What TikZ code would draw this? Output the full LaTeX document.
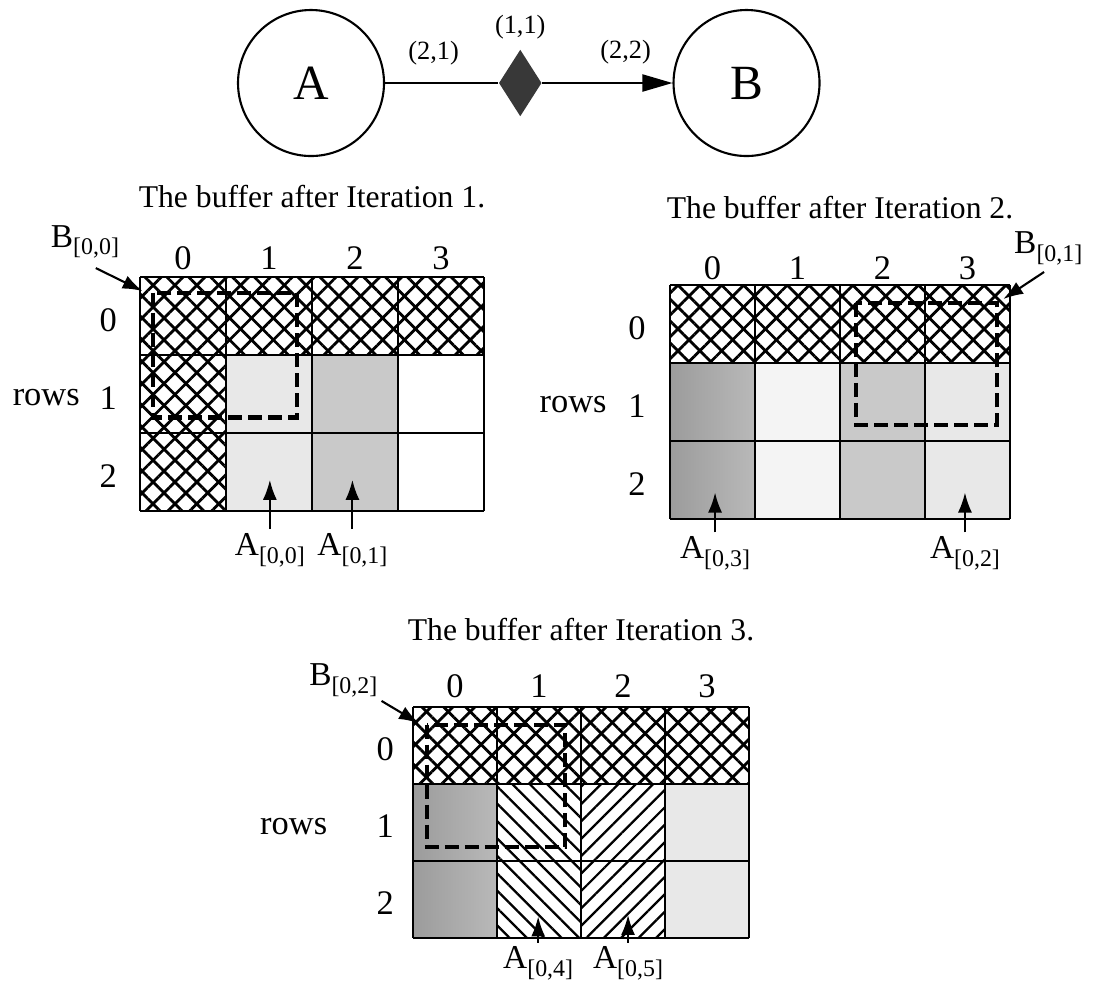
\documentclass[tikz,border=0pt]{standalone}
\usepackage{fontspec}
\setmainfont{Liberation Serif}
\usetikzlibrary{shapes.geometric, arrows.meta, positioning, patterns.meta}

\newcommand{\blk}[2]{#1\raisebox{-2.2pt}{\fontsize{6.8}{8}\selectfont[#2]}}

\tikzset{
  actor/.style={
    circle, draw, line width=0.6pt, minimum size=14.6mm, inner sep=0pt,
    font=\fontsize{14}{16}\selectfont
  },
  forknode/.style={
    diamond, fill=black!78, inner sep=0pt,
    minimum width=4.3mm, minimum height=6.7mm
  },
  ratelabel/.style={font=\fontsize{7.5}{9}\selectfont, inner sep=1pt},
  buftitle/.style={font=\fontsize{9}{11}\selectfont},
  idxlabel/.style={font=\fontsize{9.8}{11}\selectfont, inner sep=1pt},
  blklabel/.style={font=\fontsize{9.5}{11}\selectfont, inner sep=1pt},
  gridline/.style={line width=0.6pt},
  blockwin/.style={line width=1.2pt, dash pattern=on 1.4mm off 0.6mm},
  ptrarrow/.style={-{Latex[length=2mm,width=1.4mm]}, line width=0.6pt},
  flowarrow/.style={-{Triangle[length=3mm,width=1.7mm]}, line width=0.6pt},
  xhatch/.style={pattern={Lines[angle=#1,distance=4.4pt,line width=0.8pt]}},
  slant/.style={pattern={Lines[angle=#1,distance=3.5pt,line width=0.65pt]}},
  paleshade/.style={fill=gray!9},
  lightshade/.style={fill=gray!18},
  midshade/.style={fill=gray!42},
  darkshade/.style={left color=gray!78, right color=gray!55},
}

\begin{document}
\begin{tikzpicture}[x=0.1mm, y=-0.1mm]
  \useasboundingbox (0,0) rectangle (1100,985);

  % ── Graph A -> B ──
  \node[actor] (A) at (311,83) {A};
  \node[forknode, right=11.3mm of A] (fork) {};
  \node[actor, right=13mm of fork] (B) {B};
  \node[ratelabel, above=0.5mm of fork] (rate11) {(1,1)};

  \draw[line width=0.6pt] (A) -- node[ratelabel, pos=0.43, yshift=3mm] (rate21) {(2,1)} (fork);
  \draw[flowarrow] (fork) -- node[ratelabel, pos=0.64, yshift=3.1mm] (rate22) {(2,2)} (B);

  % ── Iteration 1 ──
  \begin{scope}[shift={(140,277)}, x=8.6mm, y=-7.8mm]
    \node[buftitle] (title1) at (2,-1.03) {The buffer after Iteration 1.};
    \fill[lightshade] (1,1) rectangle (2,3);
    \fill[midshade] (2,1) rectangle (3,3);
    \foreach \a in {45,-45}
      \fill[xhatch=\a] (0,0) -- (4,0) -- (4,1) -- (1,1) -- (1,3) -- (0,3) -- cycle;
    \foreach \c in {0,...,4} \draw[gridline] (\c,0) -- (\c,3);
    \foreach \r in {0,...,3} \draw[gridline] (0,\r) -- (4,\r);
    \foreach \c in {0,...,3} \node[idxlabel] (colA\c) at (\c+0.5,-0.24) {\c};
    \foreach \r in {0,1,2} \node[idxlabel] (rowA\r) at (-0.37,\r+0.55) {\r};
    \node[idxlabel] (rowsA) at (-1.09,1.55) {rows};

    \draw[blockwin] (0.15,0.2) rectangle (1.83,1.8);

    \node[blklabel] (b00) at (-0.64,-0.45) {\blk{B}{0,0}};
    \coordinate (b00tip) at (0.03,0.18);
    \draw[ptrarrow, shorten <=1.2mm] (b00.south) -- (b00tip);

    \node[blklabel] (a00) at (1.51,3.5) {\blk{A}{0,0}};
    \coordinate (a00tip) at (1.51,2.6);
    \draw[ptrarrow] (a00) -- (a00tip);
    \node[blklabel] (a01) at (2.47,3.5) {\blk{A}{0,1}};
    \coordinate (a01tip) at (2.47,2.6);
    \draw[ptrarrow] (a01) -- (a01tip);
  \end{scope}

  % ── Iteration 2 ──
  \begin{scope}[shift={(670,285)}, x=8.5mm, y=-7.8mm]
    \node[buftitle] (title2) at (2,-0.99) {The buffer after Iteration 2.};
    \fill[darkshade] (0,1) rectangle (1,3);
    \fill[paleshade] (1,1) rectangle (2,3);
    \fill[midshade] (2,1) rectangle (3,3);
    \fill[lightshade] (3,1) rectangle (4,3);
    \foreach \a in {45,-45}
      \fill[xhatch=\a] (0,0) rectangle (4,1);
    \foreach \c in {0,...,4} \draw[gridline] (\c,0) -- (\c,3);
    \foreach \r in {0,...,3} \draw[gridline] (0,\r) -- (4,\r);
    \foreach \c in {0,...,3} \node[idxlabel] (colB\c) at (\c+0.5,-0.22) {\c};
    \foreach \r in {0,1,2} \node[idxlabel] (rowB\r) at (-0.39,\r+0.55) {\r};
    \node[idxlabel] (rowsB) at (-1.14,1.53) {rows};

    \draw[blockwin] (2.19,0.23) rectangle (3.85,1.79);

    \node[blklabel] (b01) at (4.45,-0.47) {\blk{B}{0,1}};
    \coordinate (b01tip) at (3.92,0.18);
    \draw[ptrarrow, shorten <=0.5mm] (b01.south) -- (b01tip);

    \node[blklabel] (a03) at (0.53,3.44) {\blk{A}{0,3}};
    \coordinate (a03tip) at (0.53,2.66);
    \draw[ptrarrow] (a03) -- (a03tip);
    \node[blklabel] (a02) at (3.47,3.44) {\blk{A}{0,2}};
    \coordinate (a02tip) at (3.47,2.66);
    \draw[ptrarrow] (a02) -- (a02tip);
  \end{scope}

  % ── Iteration 3 ──
  \begin{scope}[shift={(413,707)}, x=8.4mm, y=-7.7mm]
    \node[buftitle] (title3) at (2,-1.0) {The buffer after Iteration 3.};
    \fill[darkshade] (0,1) rectangle (1,3);
    \fill[slant=-45] (1,1) rectangle (2,3);
    \fill[slant=45] (2,1) rectangle (3,3);
    \fill[lightshade] (3,1) rectangle (4,3);
    \foreach \a in {45,-45}
      \fill[xhatch=\a] (0,0) rectangle (4,1);
    \foreach \c in {0,...,4} \draw[gridline] (\c,0) -- (\c,3);
    \foreach \r in {0,...,3} \draw[gridline] (0,\r) -- (4,\r);
    \foreach \c in {0,...,3} \node[idxlabel] (colC\c) at (\c+0.5,-0.27) {\c};
    \foreach \r in {0,1,2} \node[idxlabel] (rowC\r) at (-0.33,\r+0.55) {\r};
    \node[idxlabel] (rowsC) at (-1.42,1.55) {rows};

    \draw[blockwin] (0.17,0.23) rectangle (1.81,1.82);

    \node[blklabel] (b02) at (-0.83,-0.35) {\blk{B}{0,2}};
    \coordinate (b02tip) at (0.07,0.21);
    \draw[ptrarrow] (b02.south east) -- (b02tip);

    \node[blklabel] (a04) at (1.49,3.33) {\blk{A}{0,4}};
    \coordinate (a04tip) at (1.49,2.72);
    \draw[ptrarrow] (a04) -- (a04tip);
    \node[blklabel] (a05) at (2.56,3.33) {\blk{A}{0,5}};
    \coordinate (a05tip) at (2.56,2.70);
    \draw[ptrarrow] (a05) -- (a05tip);
  \end{scope}
\end{tikzpicture}
\end{document}
